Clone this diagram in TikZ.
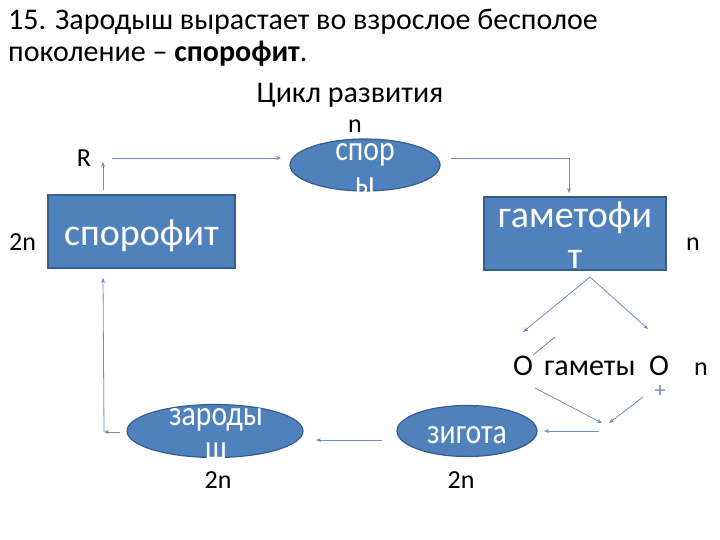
\documentclass[tikz,border=0pt]{standalone}
\usepackage{fontspec}
\setmainfont{Carlito}
\newfontfamily\ovalfont{Carlito}[FakeStretch=0.85]
\usetikzlibrary{arrows.meta}
\usetikzlibrary{shapes.geometric}
\definecolor{mblue}{RGB}{79,129,189}
\definecolor{mdark}{RGB}{56,93,138}
\definecolor{mline}{RGB}{110,142,192}
\tikzset{box/.style = {draw=mdark, fill=mblue, line width=1.2pt, inner sep=0}}
\tikzset{oval/.style = {ellipse, draw=mdark, fill=mblue, line width=1.2pt, inner sep=0}}
\tikzset{inside/.style = {text=white, align=center, inner sep=0, font=\fontsize{38}{40}\selectfont}}
\tikzset{ovaltext/.style = {text=white, align=center, inner sep=0, font=\ovalfont\fontsize{35}{34}\selectfont}}
\tikzset{lbl/.style = {inner sep=0, font=\fontsize{30}{30}\selectfont}}
\tikzset{small/.style = {inner sep=0, font=\fontsize{26}{26}\selectfont}}
\tikzset{link/.style = {draw=mline, line width=0.8pt, -{Stealth[length=5pt,width=4pt]}}}
\tikzset{plain/.style = {draw=mline, line width=0.8pt}}

\begin{document}
\begin{tikzpicture}[x=1pt, y=-1pt]
    \useasboundingbox (0,0) rectangle (720,540);

    \node [lbl, anchor=base west] (line1) at (8,30) {15. Зародыш вырастает во взрослое бесполое};
    \node [lbl, anchor=base west] (line2) at (8,62) {поколение -- \textbf{спорофит}.};
    \node [lbl, anchor=base] (title) at (350,103) {Цикл развития};

    \node [box, minimum width=187, minimum height=73] (sporophyte) at (141.5,231.5) {};
    \node [inside, anchor=base] at (141.5,245) {спорофит};
    \node [box, minimum width=182, minimum height=73] (gametophyte) at (575,233.5) {};
    \node [inside, anchor=base] at (575,268) {гаметофи\\т};

    \node [oval, minimum width=150, minimum height=52] (spores) at (365,165) {};
    \node [ovaltext, anchor=base] at (365,195) {спор\\ы};
    \node [oval, minimum width=140, minimum height=51] (zygote) at (467,431) {};
    \node [ovaltext, anchor=base] at (467,443) {зигота};
    \node [oval, minimum width=176, minimum height=53] (embryo) at (215,431) {};
    \node [ovaltext, anchor=base] at (216,459) {зароды\\ш};

    % plain labels
    \node [small, anchor=base] (nspore) at (355,133) {n};
    \node [small, anchor=base] (rlab) at (84,167) {R};
    \node [small, anchor=base west] (nsporo) at (9,251) {2n};
    \node [small, anchor=base west] (ngamet) at (686,251) {n};
    \node [lbl, anchor=base west] (egg) at (513,375) {O};
    \node [lbl, anchor=base west] (gametes) at (544,375) {гаметы};
    \node [lbl, anchor=base west] (sperm) at (649,375) {O};
    \node [small, anchor=base west] (ngametes) at (694,375) {n};
    \node [small, anchor=base] (nembryo) at (218,488) {2n};
    \node [small, anchor=base] (nzygote) at (461,488) {2n};
    \node [text=mline, inner sep=0, font=\fontsize{22}{22}\selectfont] (plus) at (660,391) {+};

    % connectors
    \coordinate (upA) at (103,190);
    \coordinate (upB) at (103,162);
    \coordinate (topA) at (112,158);
    \coordinate (topB) at (281,158);
    \coordinate (topC) at (451,158);
    \coordinate (topD) at (569,158);
    \coordinate (topE) at (569,193);
    \coordinate (apex) at (590,277);
    \coordinate (gl) at (523,332);
    \coordinate (gr) at (648,329);
    \coordinate (tickA) at (533,355);
    \coordinate (tickB) at (555,337);
    \coordinate (mlA) at (535,388);
    \coordinate (mlB) at (602,423);
    \coordinate (mrA) at (643,397);
    \coordinate (mrB) at (609,423);
    \coordinate (zgA) at (599,431);
    \coordinate (zgB) at (544,431);
    \coordinate (emA) at (382,440);
    \coordinate (emB) at (316,440);
    \coordinate (loA) at (120,432);
    \coordinate (loB) at (104,432);
    \coordinate (loC) at (103,278);

    \draw [link] (upA) -- (upB);
    \draw [link] (topA) -- (topB);
    \draw [plain] (topC) -- (topD);
    \draw [link] (topD) -- (topE);
    \draw [link] (apex) -- (gl);
    \draw [link] (apex) -- (gr);
    \draw [plain] (tickA) -- (tickB);
    \draw [link] (mlA) -- (mlB);
    \draw [link] (mrA) -- (mrB);
    \draw [link] (zgA) -- (zgB);
    \draw [link] (emA) -- (emB);
    \draw [link] (loA) -- (loB);
    \draw [link] (loB) -- (loC);
\end{tikzpicture}
\end{document}
